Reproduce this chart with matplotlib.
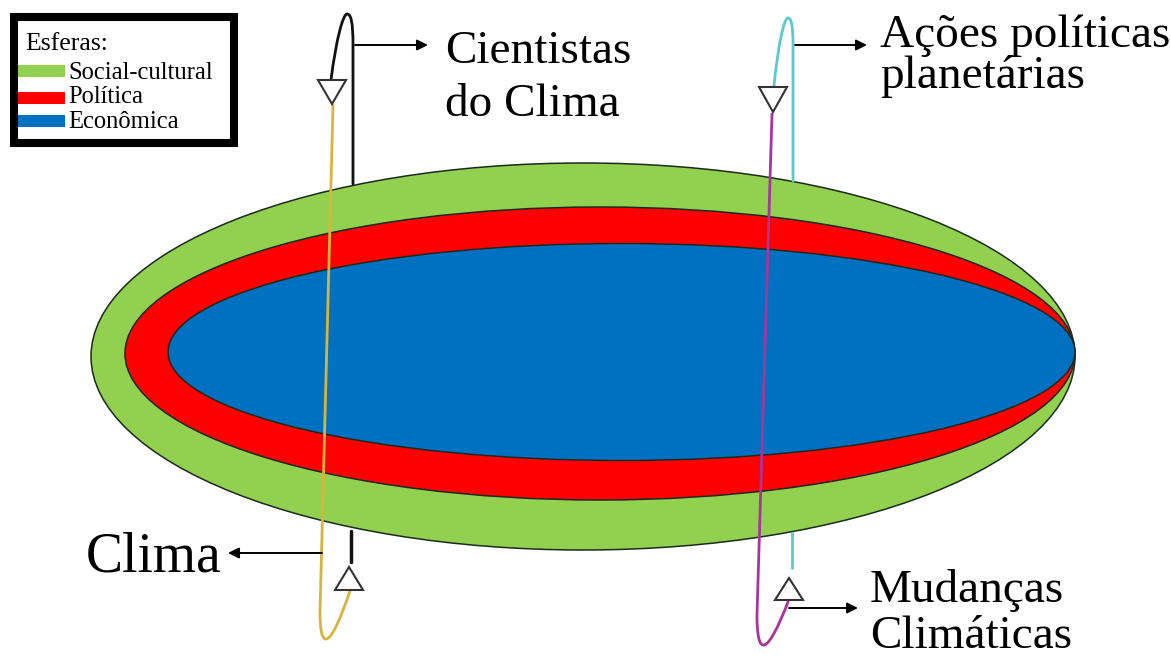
import matplotlib
matplotlib.use("Agg")
import matplotlib.pyplot as plt
from matplotlib.patches import Ellipse, Rectangle, Polygon, PathPatch
from matplotlib.path import Path

# ---- data (pixel geometry of the diagram) ----
sphere_names = ["Social-cultural", "Política", "Econômica"]
sphere_colors = ["#92D050", "#FF0000", "#0070C0"]
sphere_centers = [(583, 356.5), (600, 353.5), (621.5, 352)]
sphere_half_w = [492, 475, 453.5]
sphere_half_h = [193.5, 146.5, 108.5]

legend_title = "Esferas:"
label_cientistas = ["Cientistas", "do Clima"]
label_acoes = ["Ações políticas", "planetárias"]
label_mudancas = ["Mudanças", "Climáticas"]
label_clima = "Clima"

FONT = ["Liberation Serif", "DejaVu Serif"]

fig = plt.figure(figsize=(11.71, 6.65), dpi=100)
ax = fig.add_axes([0, 0, 1, 1])
ax.set_xlim(0, 1171)
ax.set_ylim(665, 0)
ax.axis("off")

# ---- nested ellipses ----
for c, w, h, col in zip(sphere_centers, sphere_half_w, sphere_half_h, sphere_colors):
    ax.add_patch(Ellipse(c, 2 * w, 2 * h, facecolor=col, edgecolor="#1c2a1c", lw=1.1, zorder=1))

def curve(verts, codes, color, lw=2.0, z=3):
    ax.add_patch(PathPatch(Path(verts, codes), facecolor="none", edgecolor=color, lw=lw, zorder=z,
                           capstyle="round", joinstyle="round"))

M, L, C = Path.MOVETO, Path.LINETO, Path.CURVE4

# ---- left loop ----
curve([(353, 184), (353, 45), (353, 22), (351, 14), (347, 14), (343, 14), (336, 40), (331, 80)],
      [M, L, C, C, C, C, C, C], "#111111", lw=2.0)
curve([(333, 105), (320, 612), (320, 652), (330, 650), (350, 591)],
      [M, L, C, C, C], "#D9B43C", lw=2.0)
curve([(351, 531), (351, 562)], [M, L], "#111111", lw=2.5)
ax.add_patch(Polygon([(318, 80), (346, 80), (332, 104)], closed=True, facecolor="white",
                     edgecolor="#333333", lw=1.5, zorder=4))
ax.add_patch(Polygon([(335, 590), (363, 590), (349, 567)], closed=True, facecolor="white",
                     edgecolor="#333333", lw=1.5, zorder=4))

# ---- right loop ----
curve([(793, 181), (793, 45), (793, 24), (791, 18), (788, 18), (784, 18), (778, 45), (774, 86)],
      [M, L, C, C, C, C, C, C], "#5BC8D2", lw=2.0)
curve([(772, 114), (757, 615), (757, 658), (767, 656), (788, 602)],
      [M, L, C, C, C], "#A8349E", lw=2.0)
curve([(792, 533), (792, 568)], [M, L], "#5BC8D2", lw=2.0)
ax.add_patch(Polygon([(759, 87), (787, 87), (773, 112)], closed=True, facecolor="white",
                     edgecolor="#333333", lw=1.5, zorder=4))
ax.add_patch(Polygon([(775, 600), (803, 600), (789, 578)], closed=True, facecolor="white",
                     edgecolor="#333333", lw=1.5, zorder=4))

# ---- arrows ----
arrow = dict(arrowstyle="-|>", color="black", lw=1.4, mutation_scale=16, shrinkA=0, shrinkB=0)
ax.annotate("", xy=(428, 45), xytext=(355, 45), arrowprops=arrow, zorder=5)
ax.annotate("", xy=(867, 45), xytext=(795, 45), arrowprops=arrow, zorder=5)
ax.annotate("", xy=(858, 608), xytext=(789, 608), arrowprops=arrow, zorder=5)
ax.annotate("", xy=(228, 553), xytext=(322, 553), arrowprops=arrow, zorder=5)

# ---- labels ----
big = 34
ax.text(445, 63, label_cientistas[0], fontsize=big, family=FONT, va="baseline", ha="left")
ax.text(445, 116, label_cientistas[1], fontsize=big, family=FONT, va="baseline", ha="left")
ax.text(880, 47, label_acoes[0], fontsize=big, family=FONT, va="baseline", ha="left")
ax.text(880, 88, label_acoes[1], fontsize=big, family=FONT, va="baseline", ha="left")
ax.text(870, 602, label_mudancas[0], fontsize=big, family=FONT, va="baseline", ha="left")
ax.text(870, 648, label_mudancas[1], fontsize=big, family=FONT, va="baseline", ha="left")
ax.text(221, 571, label_clima, fontsize=40, family=FONT, va="baseline", ha="right")

# ---- legend box ----
ax.add_patch(Rectangle((14, 17), 220, 126, facecolor="white", edgecolor="black", lw=5.8, zorder=6))
ax.text(25, 50, legend_title, fontsize=18.5, family=FONT, va="baseline", ha="left", zorder=7)
legend_rows_y = [(65, 79), (92, 103), (115, 128)]
for (top, base), name, col in zip(legend_rows_y, sphere_names, sphere_colors):
    ax.add_patch(Rectangle((18, top), 47, 12, facecolor=col, edgecolor="none", zorder=7))
    ax.text(68, base, name, fontsize=17.7, family=FONT, va="baseline", ha="left", zorder=7)

fig.savefig("out.png", dpi=100)
